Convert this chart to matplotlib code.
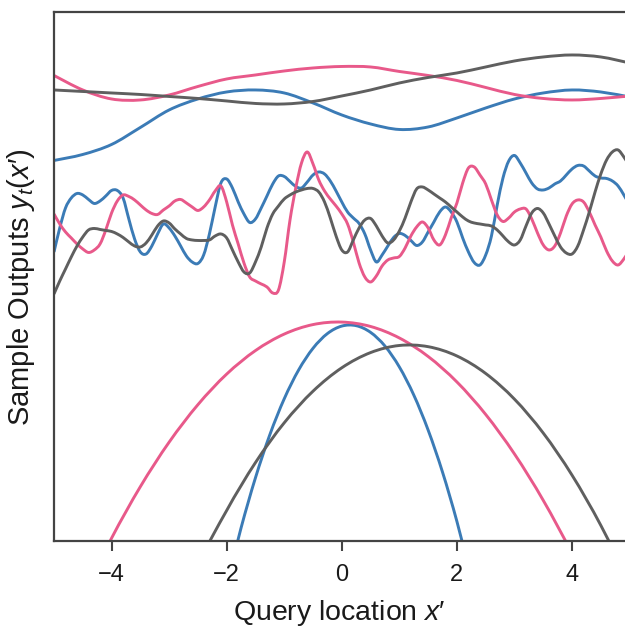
import numpy as np
import matplotlib
matplotlib.use("Agg")
import matplotlib.pyplot as plt
from matplotlib.path import Path
from matplotlib.patches import PathPatch

plt.rcParams['font.family'] = ['Liberation Sans', 'DejaVu Sans']
plt.rcParams['mathtext.fontset'] = 'custom'
plt.rcParams['mathtext.rm'] = 'Liberation Sans'
plt.rcParams['mathtext.it'] = 'Liberation Sans:italic'

# query locations
x_coarse = np.linspace(-5, 5, 21)     # smooth samples (long lengthscale)
x_fine = np.linspace(-5, 5, 101)      # wiggly samples (short lengthscale)
x_blue_quad = np.arange(-2.0, 2.26, 0.25)
x_pink_quad = np.arange(-4.5, 5.01, 0.5)
x_gray_quad = np.arange(-3.0, 5.51, 0.5)

# ---- top group: smooth samples ----
blue_smooth = [38.05, 38.65, 39.65, 41.35, 43.1, 44.2, 44.9, 45.1, 44.8, 43.8,
               42.6, 41.7, 41.15, 41.4, 42.3, 43.3, 44.2, 44.8, 45.1, 44.9,
               44.4]
pink_smooth = [46.55, 45.1, 44.2, 44.1, 44.6, 45.45, 46.2, 46.6, 47.0, 47.3,
               47.45, 47.4, 46.95, 46.55, 46.05, 45.35, 44.65, 44.25, 44.1, 44.25,
               44.5]
gray_smooth = [45.1, 44.95, 44.8, 44.65, 44.45, 44.25, 44.0, 43.75, 43.7, 43.95,
               44.5, 45.1, 45.8, 46.35, 46.8, 47.4, 48.0, 48.4, 48.6, 48.4,
               47.8]

# ---- middle group: wiggly samples ----
blue_wiggly = [28.9, 31.3, 33.3, 34.3, 34.75, 34.6, 34.15, 33.75, 34.0, 34.5,
               35.05, 35.05, 34.3, 32.2, 30.2, 28.9, 28.7, 29.5, 30.7, 31.7,
               31.3, 30.5, 29.5, 28.5, 27.9, 27.75, 28.6, 30.7, 33.4, 35.8,
               36.2, 35.3, 33.9, 32.7, 31.85, 32.2, 33.3, 34.5, 35.7, 36.5,
               36.45, 35.95, 35.45, 35.3, 35.9, 36.6, 36.9, 36.7, 36.0, 35.0,
               33.9, 32.9, 32.3, 31.75, 30.7, 29.1, 27.9, 28.6, 29.5, 30.35,
               30.75, 30.55, 30.05, 29.55, 29.9, 30.9, 31.9, 32.9, 33.4, 32.9,
               31.9, 30.3, 28.9, 27.85, 27.6, 28.6, 30.5, 33.6, 36.3, 38.0,
               38.55, 37.8, 36.8, 35.8, 35.2, 35.1, 35.3, 35.7, 36.0, 36.6,
               37.2, 37.55, 37.5, 37.0, 36.5, 36.3, 36.25, 36.0, 35.5, 34.6,
               33.6]
pink_wiggly = [32.7, 31.7, 30.9, 30.3, 29.7, 29.2, 28.85, 29.1, 29.7, 31.1,
               32.8, 34.0, 34.6, 34.45, 34.1, 33.6, 33.1, 32.75, 32.65, 33.1,
               33.5, 34.0, 34.15, 33.8, 33.4, 33.05, 33.4, 34.1, 35.0, 35.5,
               33.9, 31.6, 29.7, 27.8, 26.4, 26.0, 25.7, 25.4, 24.8, 25.1,
               27.9, 32.1, 35.3, 37.8, 38.9, 37.7, 36.1, 35.0, 34.2, 33.5,
               32.7, 31.7, 29.9, 27.8, 26.4, 25.9, 26.5, 27.5, 28.1, 28.3,
               28.45, 29.3, 30.5, 31.4, 31.9, 31.3, 30.1, 29.6, 30.6, 32.3,
               33.8, 35.8, 37.3, 37.4, 36.6, 35.7, 34.1, 32.6, 31.95, 32.3,
               32.9, 33.2, 33.2, 32.2, 30.8, 29.6, 29.1, 29.5, 30.8, 32.5,
               33.7, 34.1, 33.9, 32.9, 31.6, 30.4, 29.0, 28.0, 27.6, 28.2,
               29.1]
gray_wiggly = [24.7, 26.0, 27.2, 28.4, 29.5, 30.4, 31.1, 31.25, 31.15, 31.05,
               30.95, 30.7, 30.35, 29.9, 29.5, 29.4, 29.8, 30.6, 31.5, 32.0,
               31.8, 31.2, 30.7, 30.25, 30.1, 30.05, 30.05, 30.1, 30.5, 30.7,
               30.3, 29.1, 27.9, 26.9, 26.8, 27.9, 29.4, 31.3, 32.7, 33.5,
               34.2, 34.6, 34.9, 35.1, 35.25, 35.25, 34.9, 33.9, 32.3, 30.5,
               29.1, 28.9, 30.1, 31.3, 32.1, 32.25, 31.5, 30.5, 29.8, 30.1,
               31.0, 32.3, 33.9, 35.2, 35.4, 35.1, 34.7, 34.3, 33.9, 33.4,
               32.9, 32.4, 32.0, 31.8, 31.7, 31.6, 31.5, 31.1, 30.5, 29.9,
               29.6, 30.1, 31.5, 32.8, 33.25, 32.8, 31.7, 30.5, 29.4, 28.8,
               28.7, 29.5, 31.1, 32.9, 34.9, 36.7, 38.1, 38.9, 39.1, 38.4,
               37.5]

# ---- bottom group: quadratic samples ----
blue_quad = [-4.4, 1.31, 6.32, 10.63, 14.22, 17.1, 19.27, 20.74, 21.49,
             21.53, 20.86, 19.49, 17.4, 14.6, 11.09, 6.88, 1.95, -3.69]
pink_quad = [-5.57, 0.28, 5.43, 9.88, 13.63, 16.69, 19.04, 20.69, 21.64,
             21.89, 21.45, 20.3, 18.45, 15.9, 12.65, 8.7, 4.06, -1.29, -7.5, -14.0]
gray_quad = [-11.0, -2.57, 3.05, 7.84, 11.82, 14.98, 17.32, 18.84, 19.55, 19.43,
             18.5, 16.75, 14.18, 10.79, 6.58, 1.56, -4.29, -10.0]

c_blue = '#3b7bb6'
c_pink = '#e8598a'
c_gray = '#5f5f5f'
lw = 2.1


def smooth_line(ax, x, y, color):
    # draw a smooth curve through the points (cubic Bezier segments)
    x = np.asarray(x, float)
    y = np.asarray(y, float)
    n = len(x)
    verts = [(x[0], y[0])]
    codes = [Path.MOVETO]
    for i in range(n - 1):
        xa, ya = (x[i - 1], y[i - 1]) if i > 0 else (x[i], y[i])
        xb, yb = (x[i + 2], y[i + 2]) if i + 2 < n else (x[i + 1], y[i + 1])
        verts.append((x[i] + (x[i + 1] - xa) / 6, y[i] + (y[i + 1] - ya) / 6))
        verts.append((x[i + 1] - (xb - x[i]) / 6, y[i + 1] - (yb - y[i]) / 6))
        verts.append((x[i + 1], y[i + 1]))
        codes += [Path.CURVE4] * 3
    ax.add_patch(PathPatch(Path(verts, codes), fill=False, edgecolor=color,
                           lw=lw, capstyle='butt', joinstyle='round'))


fig = plt.figure(figsize=(6.25, 6.3), dpi=100)
ax = fig.add_axes([0.0864, 0.1413, 0.9136, 0.8397])

smooth_line(ax, x_coarse, blue_smooth, c_blue)
smooth_line(ax, x_coarse, pink_smooth, c_pink)
smooth_line(ax, x_coarse, gray_smooth, c_gray)

smooth_line(ax, x_fine, blue_wiggly, c_blue)
smooth_line(ax, x_fine, pink_wiggly, c_pink)
smooth_line(ax, x_fine, gray_wiggly, c_gray)

smooth_line(ax, x_blue_quad, blue_quad, c_blue)
smooth_line(ax, x_pink_quad, pink_quad, c_pink)
smooth_line(ax, x_gray_quad, gray_quad, c_gray)

ax.set_xlim(-5, 4.92)
ax.set_ylim(0, 52.9)
ax.set_xticks([-4, -2, 0, 2, 4])
ax.set_yticks([])

for side in ['left', 'bottom', 'top']:
    ax.spines[side].set_color('#444444')
    ax.spines[side].set_linewidth(1.6)
ax.spines['right'].set_visible(False)
ax.tick_params(axis='x', direction='out', length=7.5, width=1.5, color='#444444',
               labelsize=17, labelcolor='#1a1a1a', pad=9)

ax.set_xlabel(r"Query location $x\prime$", fontsize=20.5, color='#1a1a1a', va='top')
ax.xaxis.set_label_coords(0.5, -0.108)
ax.set_ylabel(r"Sample Outputs $y_t(x\prime)$", fontsize=21, color='#1a1a1a')
ax.yaxis.set_label_coords(-0.03, 0.48)

fig.savefig('out.png', dpi=100)
